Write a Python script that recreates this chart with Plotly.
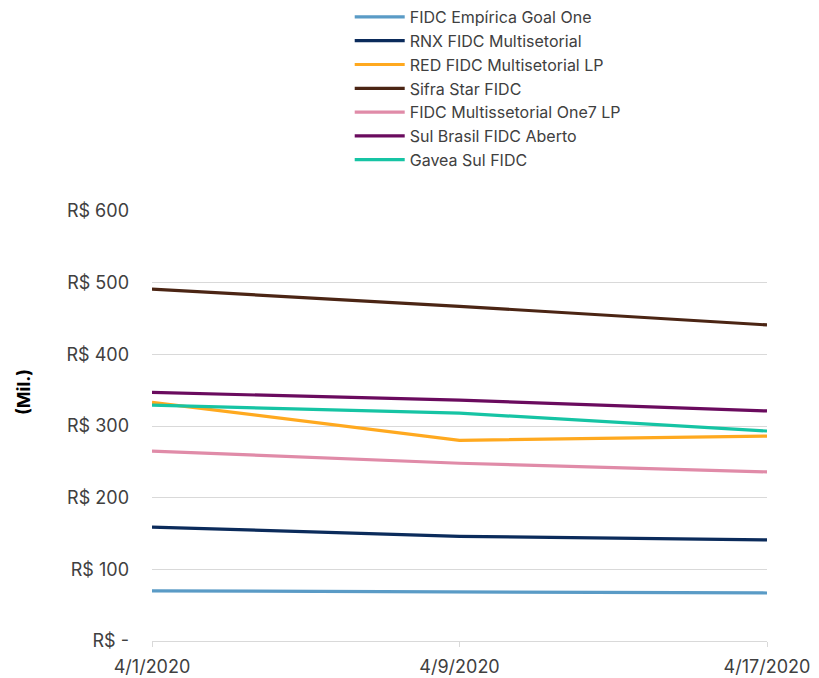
import plotly.graph_objects as go

dates = ["4/1/2020", "4/9/2020", "4/17/2020"]
series_names = [
    "FIDC Empírica Goal One",
    "RNX FIDC Multisetorial",
    "RED FIDC Multisetorial LP",
    "Sifra Star FIDC",
    "FIDC Multissetorial One7 LP",
    "Sul Brasil FIDC Aberto",
    "Gavea Sul FIDC",
]
empirica = [70, 68, 67]
rnx = [159, 146, 141]
red = [333, 280, 286]
sifra = [491, 467, 441]
one7 = [265, 248, 236]
sul_brasil = [347, 336, 321]
gavea = [329, 318, 293]
series_values = [empirica, rnx, red, sifra, one7, sul_brasil, gavea]
colors = ["#5a9bc6", "#0b2b5b", "#ffa91f", "#4b2514", "#e08ba8", "#6a0b5e", "#16c4a4"]

y_tickvals = [0, 100, 200, 300, 400, 500, 600]
y_ticktext = ["R$ -", "R$ 100", "R$ 200", "R$ 300", "R$ 400", "R$ 500", "R$ 600"]

FONT = "Inter"
TXT = "#404040"
fig = go.Figure()
for name, vals, col in zip(series_names, series_values, colors):
    fig.add_trace(go.Scatter(x=dates, y=vals, name=name, mode="lines",
                             line=dict(color=col, width=3.2)))

fig.update_layout(
    width=819, height=678,
    margin=dict(l=152, r=52, t=211, b=37, autoexpand=False),
    paper_bgcolor="white", plot_bgcolor="white",
    font=dict(family=FONT, size=18, color=TXT),
    showlegend=True,
    legend=dict(
        x=0.427, xref="container", xanchor="left",
        y=1.0, yref="container", yanchor="top",
        font=dict(family=FONT, size=16, color=TXT),
        traceorder="normal", tracegroupgap=0,
        bgcolor="rgba(0,0,0,0)", itemwidth=50,
    ),
    xaxis=dict(
        type="category", range=[0, 2], tickangle=0, automargin=False,
        showgrid=False, showline=True, linecolor="#d9d9d9", linewidth=1,
        ticks="outside", ticklen=5, tickcolor="#d9d9d9",
        ticklabelstandoff=4,
        tickfont=dict(family=FONT, size=18, color=TXT),
        zeroline=False,
    ),
    yaxis=dict(
        range=[0, 600], tickvals=y_tickvals, ticktext=y_ticktext, automargin=False,
        showgrid=True, gridcolor="#d9d9d9", gridwidth=1,
        zeroline=False, showline=False, ticks="",
        ticklabelstandoff=22,
        tickfont=dict(family=FONT, size=18, color=TXT),
    ),
    annotations=[dict(
        text="<b>(Mil.)</b>", textangle=-90, xref="paper", yref="paper",
        x=(23 - 152) / 615, y=(641 - 392) / 430, xanchor="center", yanchor="middle",
        showarrow=False, font=dict(family=FONT, size=18, color="#000000"),
    )],
)

fig.write_html("out.html")
